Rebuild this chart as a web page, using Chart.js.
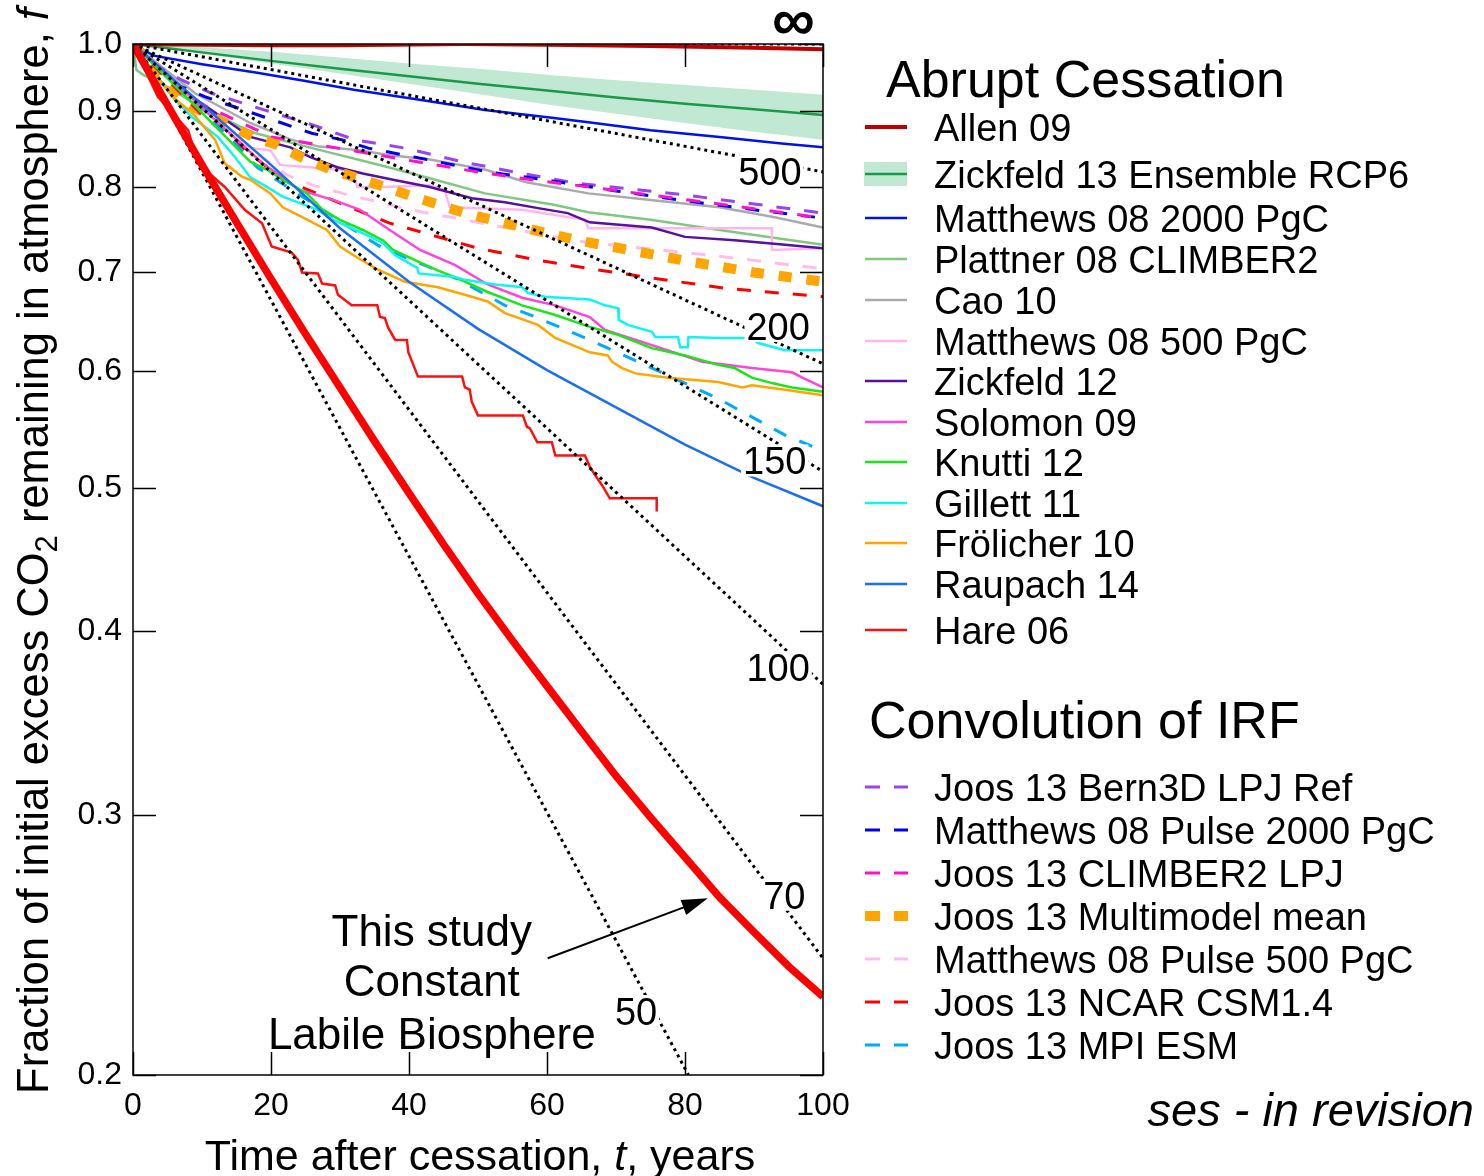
<!DOCTYPE html>
<html>
<head>
<meta charset="utf-8">
<script src="https://cdn.jsdelivr.net/npm/chart.js@4.4.1/dist/chart.umd.min.js"></script>
<style>
  html, body { margin: 0; padding: 0; background: #fff; }
  #wrap { position: relative; width: 1484px; height: 1176px; }
</style>
</head>
<body>
<div id="wrap"><canvas id="decay"></canvas></div>
<script>
// ---- axis ticks ----
const xTicks = [0, 20, 40, 60, 80, 100];
const yTicks = [0.2, 0.3, 0.4, 0.5, 0.6, 0.7, 0.8, 0.9, 1.0];

// ---- e-folding reference lines (start at t=0, f=1) ----
const efoldTau  = ['∞', '500', '200', '150', '100', '70', '50'];
const efoldEndT = [100, 100, 100, 100, 100, 100, 80.5];
const efoldEndF = [1.0, 0.819, 0.607, 0.513, 0.368, 0.240, 0.2];

// ---- this study ----
const studyT = [0, 5, 10, 15, 20, 25, 30, 35, 40, 45, 50, 55, 60, 65, 70, 75, 80, 85, 90, 95, 100];
const studyF = [1, 0.909, 0.828, 0.757, 0.693, 0.636, 0.585, 0.538, 0.496, 0.458, 0.424, 0.394, 0.367, 0.342, 0.319, 0.299, 0.281, 0.264, 0.250, 0.237, 0.226];

// ---- abrupt cessation runs ----
const allenT = [0, 10, 20, 30, 48, 60, 75, 90, 100];
const allenF = [1, 0.999, 0.998, 0.998, 1.0, 0.999, 0.997, 0.994, 0.992];

const zick13T  = [0, 10, 20, 30, 40, 50, 60, 70, 80, 90, 100];
const zick13F  = [1, 0.987, 0.974, 0.962, 0.951, 0.940, 0.930, 0.920, 0.911, 0.903, 0.895];
const zick13Hi = [1, 0.995, 0.988, 0.979, 0.970, 0.962, 0.953, 0.945, 0.938, 0.931, 0.924];
const zick13Lo = [1, 0.985, 0.970, 0.955, 0.940, 0.925, 0.910, 0.897, 0.884, 0.872, 0.861];

const matt2000T = [0, 3, 10, 18, 25, 32, 42, 51, 61, 66, 75, 85, 94, 100];
const matt2000F = [1, 0.982, 0.969, 0.956, 0.944, 0.931, 0.916, 0.902, 0.891, 0.885, 0.874, 0.865, 0.856, 0.851];

const plattnerT = [0, 0.5, 1.5, 5, 10, 17, 23, 29, 33, 37, 43, 51, 61, 66, 75, 85, 100];
const plattnerF = [1, 0.96, 0.953, 0.935, 0.905, 0.872, 0.857, 0.843, 0.834, 0.825, 0.811, 0.792, 0.778, 0.769, 0.760, 0.748, 0.731];

const caoT = [0, 9, 17, 23, 27, 33, 37, 43, 51, 57, 66, 75, 85, 93, 100];
const caoF = [1, 0.926, 0.884, 0.861, 0.852, 0.847, 0.841, 0.835, 0.822, 0.806, 0.792, 0.784, 0.775, 0.763, 0.751];

const matt500T = [0, 5, 10, 17, 19.9, 20.6, 21.3, 25.7, 31, 31.9, 32.5, 36.2, 43, 45.2, 45.9, 56.4, 65.5, 66, 92.6, 92.6, 100];
const matt500F = [1, 0.95, 0.91, 0.850, 0.847, 0.838, 0.828, 0.825, 0.821, 0.819, 0.800, 0.800, 0.802, 0.796, 0.775, 0.772, 0.760, 0.750, 0.750, 0.725, 0.727];

const zick12T = [0, 8.6, 17, 22.8, 25.7, 29.6, 33.3, 37.7, 43, 49.1, 53.9, 58.7, 63, 66.2, 75.2, 80, 87.2, 94.5, 100];
const zick12F = [1, 0.921, 0.865, 0.851, 0.838, 0.825, 0.817, 0.809, 0.800, 0.786, 0.781, 0.774, 0.768, 0.757, 0.751, 0.740, 0.736, 0.731, 0.727];

const solomonT = [0, 3.2, 10, 18.8, 24.2, 29, 32.9, 37.2, 41.6, 46.7, 51.4, 56.4, 61.2, 66.2, 68.4, 75.2, 82.5, 89.7, 95.5, 97, 100];
const solomonF = [1, 0.971, 0.905, 0.830, 0.796, 0.784, 0.772, 0.748, 0.725, 0.708, 0.687, 0.673, 0.665, 0.653, 0.640, 0.625, 0.609, 0.603, 0.599, 0.594, 0.585];

const knuttiT = [0, 8.6, 17, 19.4, 21.7, 25.2, 27.5, 30, 33.3, 36.2, 37.7, 39.4, 43.3, 48.1, 51.4, 56.4, 61.2, 66.2, 70.3, 75.2, 80, 84.8, 87.2, 89.7, 92.6, 95.5, 100];
const knuttiF = [1, 0.912, 0.832, 0.822, 0.809, 0.792, 0.772, 0.760, 0.748, 0.736, 0.725, 0.719, 0.705, 0.690, 0.679, 0.665, 0.655, 0.643, 0.635, 0.622, 0.615, 0.606, 0.603, 0.594, 0.589, 0.585, 0.581];

const gillettT = [0, 6.1, 8.6, 12.3, 14.8, 17, 19.4, 21.7, 24.2, 26.7, 29, 31.4, 33.9, 36.2, 38, 41.2, 41.4, 46.7, 48.1, 52.5, 56.4, 57.2, 59.7, 66.2, 68.4, 70.3, 70.4, 71.7, 75.2, 75.7, 79, 79.3, 80.4, 80.5, 84.8, 89.7, 90.6, 94.5, 100];
const gillettF = [1, 0.916, 0.892, 0.865, 0.838, 0.812, 0.800, 0.788, 0.780, 0.772, 0.760, 0.751, 0.742, 0.733, 0.719, 0.705, 0.699, 0.695, 0.692, 0.687, 0.684, 0.678, 0.674, 0.671, 0.665, 0.662, 0.650, 0.645, 0.638, 0.633, 0.633, 0.623, 0.623, 0.633, 0.632, 0.632, 0.627, 0.620, 0.620];

const frolicherT = [0, 5.7, 8.6, 11.9, 13.3, 15.8, 17, 19.9, 21.7, 24.6, 28.1, 30, 32.6, 35.5, 39.4, 44.2, 49.1, 51.4, 53.9, 58.7, 61.2, 66.2, 68.8, 69.4, 70.9, 72.8, 77.5, 84.8, 88.3, 89.7, 94.5, 100];
const frolicherF = [1, 0.921, 0.898, 0.861, 0.830, 0.813, 0.809, 0.792, 0.775, 0.763, 0.748, 0.729, 0.716, 0.703, 0.690, 0.684, 0.674, 0.669, 0.657, 0.645, 0.632, 0.618, 0.615, 0.609, 0.603, 0.598, 0.594, 0.590, 0.585, 0.587, 0.583, 0.578];

const raupachT = [0, 10, 20, 30, 40, 50, 60, 70, 80, 90, 100];
const raupachF = [1, 0.910, 0.828, 0.750, 0.690, 0.641, 0.601, 0.567, 0.535, 0.508, 0.486];

const hareT = [0, 1.3, 3.6, 8.0, 9.4, 13.3, 16.2, 18.7, 20.1, 23.0, 23.9, 24.5, 26.8, 27.4, 29.3, 29.7, 31.7, 35.4, 35.8, 36.5, 37.0, 38.0, 39.7, 39.9, 41.3, 47.7, 48.1, 48.8, 49.1, 50.0, 56.5, 57.1, 57.5, 58.6, 60.7, 61.2, 65.5, 66.2, 67.0, 68.0, 69.1, 75.9, 75.9];
const hareF = [1, 0.971, 0.921, 0.874, 0.830, 0.800, 0.772, 0.756, 0.729, 0.722, 0.714, 0.700, 0.699, 0.688, 0.686, 0.676, 0.665, 0.665, 0.653, 0.652, 0.642, 0.630, 0.630, 0.618, 0.595, 0.595, 0.585, 0.583, 0.572, 0.560, 0.560, 0.550, 0.549, 0.537, 0.537, 0.526, 0.526, 0.517, 0.510, 0.502, 0.492, 0.492, 0.482];

// ---- convolution of impulse response functions ----
const bern3dT = [0, 2, 7.1, 11.4, 19.1, 26.8, 32.2, 39.4, 47.7, 55.8, 64.1, 80, 90, 100];
const bern3dF = [1, 0.975, 0.945, 0.926, 0.902, 0.879, 0.861, 0.850, 0.832, 0.818, 0.805, 0.790, 0.779, 0.768];

const pulse2000T = [0, 2, 6.5, 10.4, 19.1, 25.9, 30.3, 34.1, 42.6, 51.4, 59.7, 70, 80, 90, 100];
const pulse2000F = [1, 0.975, 0.938, 0.921, 0.892, 0.870, 0.861, 0.850, 0.835, 0.819, 0.809, 0.795, 0.783, 0.772, 0.762];

const climberT = [0, 5, 10, 20.1, 29.7, 41.2, 50, 57.8, 66.2, 75, 85, 100];
const climberF = [1, 0.95, 0.91, 0.865, 0.850, 0.832, 0.819, 0.809, 0.800, 0.790, 0.779, 0.762];

const meanT = [0, 8, 17.4, 21, 24.6, 28.6, 32.6, 36.5, 40.6, 48.1, 56.4, 64.5, 80, 90, 100];
const meanF = [1, 0.91, 0.865, 0.854, 0.837, 0.822, 0.811, 0.800, 0.788, 0.768, 0.751, 0.736, 0.713, 0.700, 0.690];

const pulse500T = [0, 10, 22.3, 26.1, 30.4, 34.3, 38.7, 42, 46.7, 61.2, 65.5, 83.9, 100];
const pulse500F = [1, 0.895, 0.815, 0.802, 0.792, 0.784, 0.775, 0.769, 0.762, 0.740, 0.734, 0.719, 0.704];

const ncarT = [0, 10, 21.7, 26.1, 30, 37.2, 41.6, 50, 58.3, 65.5, 75.2, 85.8, 100];
const ncarF = [1, 0.895, 0.809, 0.794, 0.780, 0.756, 0.746, 0.727, 0.714, 0.705, 0.694, 0.683, 0.674];

const mpiT = [0, 10, 18, 31.4, 36, 46.7, 53.9, 58.7, 66.2, 75.2, 84.8, 94.5, 100];
const mpiF = [1, 0.905, 0.825, 0.751, 0.728, 0.694, 0.665, 0.652, 0.630, 0.603, 0.575, 0.543, 0.530];

// legend groups (labels of the datasets below)
const abruptLabels = ['Allen 09', 'Zickfeld 13 Ensemble RCP6', 'Matthews 08 2000 PgC', 'Plattner 08 CLIMBER2',
  'Cao 10', 'Matthews 08 500 PgC', 'Zickfeld 12', 'Solomon 09', 'Knutti 12', 'Gillett 11',
  'Frölicher 10', 'Raupach 14', 'Hare 06'];
const irfLabels = ['Joos 13 Bern3D LPJ Ref', 'Matthews 08 Pulse 2000 PgC', 'Joos 13 CLIMBER2 LPJ',
  'Joos 13 Multimodel mean', 'Matthews 08 Pulse 500 PgC', 'Joos 13 NCAR CSM1.4', 'Joos 13 MPI ESM'];

const FONT = '"Liberation Sans", Arial, Helvetica, sans-serif';
const pts = (T, F) => T.map((t, i) => ({ x: t, y: F[i] }));

const solid = (label, T, F, color, width) => ({
  label, data: pts(T, F), borderColor: color, borderWidth: width || 2.5,
  pointRadius: 0, tension: 0, fill: false
});
const dashed = (label, T, F, color, width, dash) => ({
  ...solid(label, T, F, color, width || 3), borderDash: dash || [14, 14]
});

// first dataset is drawn on top
const datasets = [
  solid('This study', studyT, studyF, '#ff0000', 7.5),
  solid('Allen 09', allenT, allenF, '#c00000', 4),
  ...efoldTau.map((tau, i) => ({
    label: 'tau ' + tau,
    data: pts([0, efoldEndT[i]], [1, efoldEndF[i]]),
    borderColor: '#000', borderWidth: 3, borderDash: [3, 4],
    pointRadius: 0, fill: false
  })),
  solid('Hare 06', hareT, hareF, '#ff1010'),
  solid('Raupach 14', raupachT, raupachF, '#1a6ef0'),
  solid('Frölicher 10', frolicherT, frolicherF, '#ffa500'),
  solid('Gillett 11', gillettT, gillettF, '#10f4f4'),
  solid('Knutti 12', knuttiT, knuttiF, '#18e818'),
  solid('Solomon 09', solomonT, solomonF, '#ff44d8'),
  dashed('Joos 13 MPI ESM', mpiT, mpiF, '#00aaff'),
  dashed('Joos 13 NCAR CSM1.4', ncarT, ncarF, '#ff0000'),
  dashed('Joos 13 Multimodel mean', meanT, meanF, '#ffa500', 10, [13, 15]),
  dashed('Matthews 08 Pulse 500 PgC', pulse500T, pulse500F, '#ffbcec'),
  dashed('Joos 13 CLIMBER2 LPJ', climberT, climberF, '#ff10cc'),
  dashed('Matthews 08 Pulse 2000 PgC', pulse2000T, pulse2000F, '#0000f0'),
  dashed('Joos 13 Bern3D LPJ Ref', bern3dT, bern3dF, '#9944ee'),
  solid('Zickfeld 12', zick12T, zick12F, '#5a0fa0'),
  solid('Matthews 08 500 PgC', matt500T, matt500F, '#ffb6f0'),
  solid('Cao 10', caoT, caoF, '#aaaaaa'),
  solid('Plattner 08 CLIMBER2', plattnerT, plattnerF, '#80c880'),
  solid('Matthews 08 2000 PgC', matt2000T, matt2000F, '#0010f0'),
  solid('Zickfeld 13 Ensemble RCP6', zick13T, zick13F, '#1a9a48'),
  { label: 'band hi', data: pts(zick13T, zick13Hi), borderWidth: 0, pointRadius: 0,
    backgroundColor: '#c0e8d2', fill: '+1' },
  { label: 'band lo', data: pts(zick13T, zick13Lo), borderWidth: 0, pointRadius: 0, fill: false }
];

const styleOf = label => datasets.find(d => d.label === label);

// text pieces drawn next to the e-folding lines: [label, t, f]
const efoldTags = [['500', 92.3, 0.820], ['200', 93.5, 0.644], ['150', 93.0, 0.522],
  ['100', 93.5, 0.378], ['70', 94.4, 0.265], ['50', 72.9, 0.221]];

function drawSample(ctx, d, x0, x1, yc) {
  ctx.save();
  ctx.strokeStyle = d.borderColor;
  ctx.lineWidth = d.borderWidth;
  ctx.lineCap = 'butt';
  if (d.borderDash) {
    [[x0, x0 + 15], [x0 + 29, x1]].forEach(([a, b]) => {
      ctx.beginPath(); ctx.moveTo(a, yc); ctx.lineTo(b, yc); ctx.stroke();
    });
  } else {
    ctx.beginPath(); ctx.moveTo(x0, yc); ctx.lineTo(x1, yc); ctx.stroke();
  }
  ctx.restore();
}

const decor = {
  id: 'decor',
  afterDatasetsDraw(chart) {
    const { ctx, chartArea: a, scales: { x, y } } = chart;
    ctx.save();

    // labels on the e-folding lines
    ctx.font = `38px ${FONT}`;
    ctx.textAlign = 'center';
    ctx.textBaseline = 'alphabetic';
    efoldTags.forEach(([txt, t, f]) => {
      const px = x.getPixelForValue(t), py = y.getPixelForValue(f);
      const w = ctx.measureText(txt).width;
      ctx.fillStyle = '#fff';
      ctx.fillRect(px - w / 2 - 2, py - 16, w + 4, 32);
      ctx.fillStyle = '#000';
      ctx.fillText(txt, px, py + 14);
    });
    ctx.font = `bold 60px ${FONT}`;
    ctx.fillText('∞', x.getPixelForValue(95.7), y.getPixelForValue(1.038) + 20);

    // frame and inward ticks on all four sides
    ctx.strokeStyle = '#000';
    ctx.lineWidth = 1.5;
    ctx.strokeRect(a.left, a.top, a.right - a.left, a.bottom - a.top);
    ctx.beginPath();
    yTicks.forEach(v => {
      const py = Math.round(y.getPixelForValue(v)) + 0.5;
      ctx.moveTo(a.left, py); ctx.lineTo(a.left + 23, py);
      ctx.moveTo(a.right, py); ctx.lineTo(a.right - 23, py);
    });
    xTicks.forEach(v => {
      const px = Math.round(x.getPixelForValue(v)) + 0.5;
      ctx.moveTo(px, a.bottom); ctx.lineTo(px, a.bottom - 23);
      ctx.moveTo(px, a.top); ctx.lineTo(px, a.top + 23);
    });
    ctx.stroke();

    // annotation for the thick curve
    ctx.fillStyle = '#000';
    ctx.font = `44px ${FONT}`;
    const ax = x.getPixelForValue(43.3);
    ['This study', 'Constant', 'Labile Biosphere'].forEach((s, i) => {
      ctx.fillText(s, ax, [946, 996, 1049][i]);
    });
    const x0 = x.getPixelForValue(60.1), y0 = y.getPixelForValue(0.240);
    const x1 = x.getPixelForValue(83.3), y1 = y.getPixelForValue(0.2635);
    const ang = Math.atan2(y1 - y0, x1 - x0);
    ctx.lineWidth = 2;
    ctx.beginPath();
    ctx.moveTo(x0, y0);
    ctx.lineTo(x1 - 20 * Math.cos(ang), y1 - 20 * Math.sin(ang));
    ctx.stroke();
    ctx.beginPath();
    ctx.moveTo(x1, y1);
    ctx.lineTo(x1 - 26 * Math.cos(ang) + 8 * Math.sin(ang), y1 - 26 * Math.sin(ang) - 8 * Math.cos(ang));
    ctx.lineTo(x1 - 26 * Math.cos(ang) - 8 * Math.sin(ang), y1 - 26 * Math.sin(ang) + 8 * Math.cos(ang));
    ctx.closePath();
    ctx.fill();
    ctx.restore();
  },
  afterDraw(chart) {
    const { ctx } = chart;
    ctx.save();
    ctx.fillStyle = '#000';
    ctx.textBaseline = 'alphabetic';

    // y axis title with subscript and italic f
    const yParts = [['Fraction of initial excess CO', 43.5, 0, ''], ['2', 31, 9, ''],
      [' remaining in atmosphere, ', 43.5, 0, ''], ['f', 43.5, 0, 'italic ']];
    let total = 0;
    yParts.forEach(p => { ctx.font = `${p[3]}${p[1]}px ${FONT}`; total += ctx.measureText(p[0]).width; });
    ctx.translate(33, 551);
    ctx.rotate(-Math.PI / 2);
    let cx = -total / 2;
    ctx.textAlign = 'left';
    yParts.forEach(p => {
      ctx.font = `${p[3]}${p[1]}px ${FONT}`;
      ctx.fillText(p[0], cx, 15 + p[2]);
      cx += ctx.measureText(p[0]).width;
    });
    ctx.setTransform(1, 0, 0, 1, 0, 0);

    // x axis title
    const xParts = [['Time after cessation, ', ''], ['t', 'italic '], [', years', '']];
    total = 0;
    xParts.forEach(p => { ctx.font = `${p[1]}43px ${FONT}`; total += ctx.measureText(p[0]).width; });
    cx = 480 - total / 2;
    xParts.forEach(p => {
      ctx.font = `${p[1]}43px ${FONT}`;
      ctx.fillText(p[0], cx, 1170);
      cx += ctx.measureText(p[0]).width;
    });

    // legend
    ctx.font = `52px ${FONT}`;
    ctx.fillText('Abrupt Cessation', 886, 97);
    ctx.fillText('Convolution of IRF', 869, 738);
    ctx.font = `38px ${FONT}`;
    const abruptY = [127, 174, 218, 259, 300, 341, 381, 422, 462, 503, 543, 584, 630];
    abruptLabels.forEach((lab, i) => {
      const d = styleOf(lab);
      if (lab.startsWith('Zickfeld 13')) {
        ctx.fillStyle = '#c0e8d2';
        ctx.fillRect(864, abruptY[i] - 12, 43, 24);
        ctx.fillStyle = '#000';
      }
      drawSample(ctx, d, 865, 907, abruptY[i]);
      ctx.fillText(lab, 934, abruptY[i] + 14);
    });
    const irfY = [787, 830, 873, 916, 959, 1002, 1045];
    irfLabels.forEach((lab, i) => {
      drawSample(ctx, styleOf(lab), 865, 908, irfY[i]);
      ctx.fillText(lab, 934, irfY[i] + 14);
    });

    ctx.font = `italic 47px ${FONT}`;
    ctx.textAlign = 'right';
    ctx.fillText('ses - in revision', 1474, 1126);
    ctx.restore();
  }
};

new Chart(document.getElementById('decay'), {
  type: 'line',
  data: { datasets },
  options: {
    responsive: true,
    maintainAspectRatio: false,
    animation: false,
    layout: { padding: { left: 0, right: 661, top: 44, bottom: 0 } },
    plugins: { legend: { display: false }, tooltip: { enabled: false } },
    scales: {
      x: {
        type: 'linear', min: 0, max: 100,
        afterBuildTicks: s => { s.ticks = xTicks.map(v => ({ value: v })); },
        afterFit: s => { s.height = 101; },
        grid: { display: false, drawTicks: false },
        border: { display: false },
        ticks: { color: '#000', font: { family: FONT, size: 32 }, padding: 12, maxRotation: 0, autoSkip: false }
      },
      y: {
        type: 'logarithmic', min: 0.2, max: 1.0,
        afterBuildTicks: s => { s.ticks = yTicks.map(v => ({ value: v })); },
        afterFit: s => { s.width = 133; },
        grid: { display: false, drawTicks: false },
        border: { display: false },
        ticks: { color: '#000', font: { family: FONT, size: 32 }, padding: 11, autoSkip: false,
          callback: v => Number(v).toFixed(1) }
      }
    }
  },
  plugins: [decor]
});
</script>
</body>
</html>
